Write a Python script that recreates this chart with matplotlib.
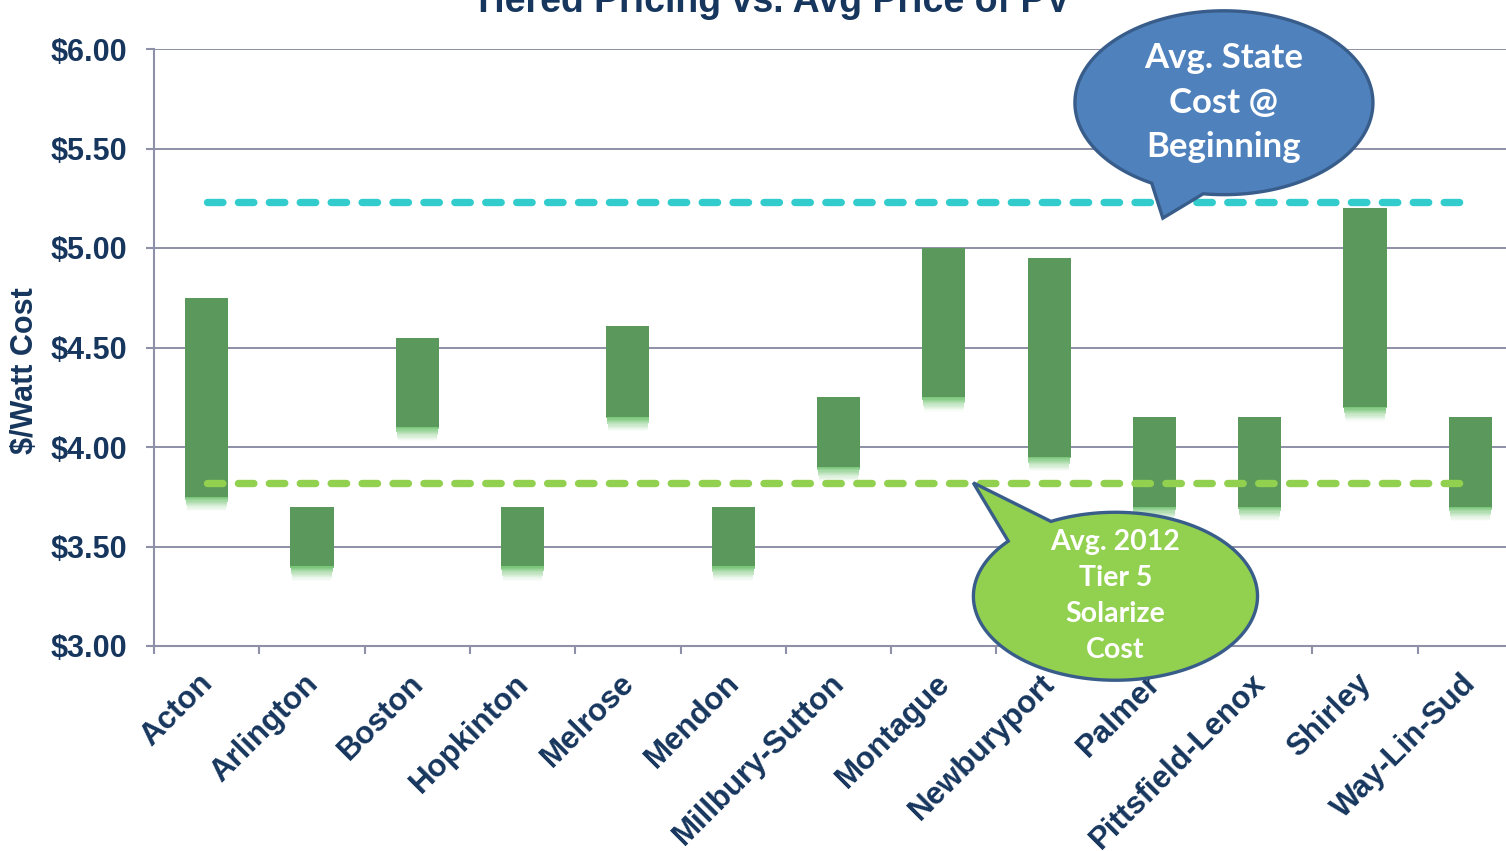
import numpy as np
import matplotlib.pyplot as plt
from matplotlib.path import Path
from matplotlib.patches import PathPatch
import matplotlib.transforms as mtransforms

# Data: price range per town ($/W)
towns = ["Acton", "Arlington", "Boston", "Hopkinton", "Melrose", "Mendon",
         "Millbury-Sutton", "Montague", "Newburyport", "Palmer",
         "Pittsfield-Lenox", "Shirley", "Way-Lin-Sud"]
low = [3.75, 3.40, 4.10, 3.40, 4.15, 3.40, 3.90, 4.25, 3.95, 3.70, 3.70, 4.20, 3.70]
high = [4.75, 3.70, 4.55, 3.70, 4.61, 3.70, 4.25, 5.00, 4.95, 4.15, 4.15, 5.20, 4.15]
state_avg = 5.23      # avg state cost at beginning
solarize_avg = 3.82   # avg 2012 tier 5 solarize cost
yticks = [3.0, 3.5, 4.0, 4.5, 5.0, 5.5, 6.0]

navy = "#17365d"
grid_c = "#8d90a6"

plt.rcParams["font.family"] = ["Liberation Sans", "DejaVu Sans"]

fig = plt.figure(figsize=(15.06, 8.51), dpi=100)
ax = fig.add_axes([154 / 1506, 1 - 646 / 851, 1369 / 1506, 597 / 851])

x = np.arange(len(towns))
low = np.array(low)
high = np.array(high)
bw = 0.41

# soft glow under each bar
n = 12
for i in range(n):
    ax.bar(x, 0.006, bottom=low - 0.006 * (i + 1), width=bw - 0.004 * i,
           color="#5cba5c", alpha=0.8 * (1 - i / n) ** 1.3, linewidth=0, zorder=2)
ax.bar(x, high - low, bottom=low, width=bw, color="#5b985b", linewidth=0, zorder=3)

# average lines
ax.plot([x[0], x[-1]], [state_avg, state_avg], color="#33cccc", lw=5.3,
        dashes=(2.1, 2.1), dash_capstyle="round", zorder=4)
ax.plot([x[0], x[-1]], [solarize_avg, solarize_avg], color="#92d050", lw=5.3,
        dashes=(2.1, 2.1), dash_capstyle="round", zorder=4)

ax.set_xlim(-0.5, len(towns) - 0.5)
ax.set_ylim(3.0, 6.0)
ax.set_yticks(yticks)
ax.set_yticklabels([f"${v:.2f}" for v in yticks], fontsize=22, fontweight="bold",
                   color=navy)
ax.set_xticks(x)
ax.set_xticklabels(towns, rotation=45, ha="right", va="top", rotation_mode="anchor",
                   fontsize=22.5, fontweight="bold", color=navy)
ax.set_xticks(np.arange(-0.5, len(towns), 1), minor=True)
ax.tick_params(axis="x", which="major", length=0, pad=16)
ax.tick_params(axis="x", which="minor", length=6, width=1.5, color=grid_c)
ax.tick_params(axis="y", length=6, width=1.5, color=grid_c, pad=13)
shift = mtransforms.ScaledTranslation(-0.09, 0, fig.dpi_scale_trans)
for lbl in ax.get_xticklabels():
    lbl.set_transform(lbl.get_transform() + shift)

ax.grid(axis="y", color=grid_c, lw=1.4, zorder=1)
ax.set_axisbelow(True)
for s in ["top", "right"]:
    ax.spines[s].set_visible(False)
for s in ["left", "bottom"]:
    ax.spines[s].set_color(grid_c)
    ax.spines[s].set_linewidth(1.5)

ax.set_ylabel("$/Watt Cost", fontsize=22, fontweight="bold", color=navy)
ax.yaxis.set_label_coords(-0.083, 0.462)

fig.text(771 / 1506, 1 - 12 / 851, "Tiered Pricing vs. Avg Price of PV",
         ha="center", va="baseline", fontsize=27, fontweight="bold", color=navy)


def callout(cx, cy, a, b, t1, t2, tip, face, text, fs, ls):
    t = np.radians(np.linspace(t1, t2, 200))
    pts = np.column_stack([cx + a * np.cos(t), cy + b * np.sin(t)])
    pts = np.vstack([pts, tip, pts[0]])
    codes = [Path.MOVETO] + [Path.LINETO] * (len(pts) - 2) + [Path.CLOSEPOLY]
    patch = PathPatch(Path(pts, codes), facecolor=face, edgecolor="#385d8a",
                      lw=2.4, zorder=6, clip_on=False)
    ax.add_patch(patch)
    ax.text(cx, cy, text, ha="center", va="center", color="white", fontsize=fs,
            fontweight="bold", family=["Lato", "DejaVu Sans"], linespacing=ls,
            zorder=7, clip_on=False)


callout(9.66, 5.73, 1.415, 0.462, -98, 241, (9.08, 5.15), "#4f81bd",
        "Avg. State\nCost @\nBeginning", 25, 1.48)
callout(8.63, 3.25, 1.349, 0.422, 139, 477, (7.28, 3.82), "#92d050",
        "Avg. 2012\nTier 5\nSolarize\nCost", 20.5, 1.48)

fig.savefig("out.png", dpi=100)
